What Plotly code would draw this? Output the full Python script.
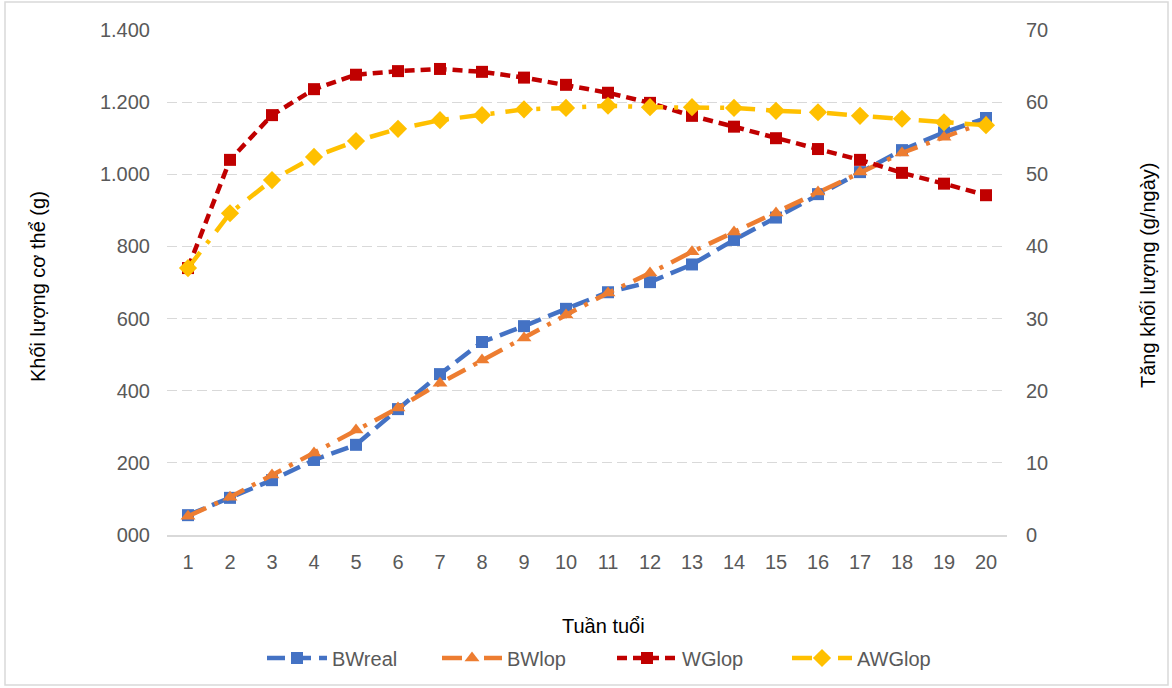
import plotly.graph_objects as go

weeks = list(range(1, 21))
bw_real = [55, 103, 152, 208, 250, 349, 446, 535, 579, 627, 673, 701, 750, 818, 880, 945, 1006, 1067, 1116, 1156]
bw_lop = [52, 105, 166, 227, 291, 352, 421, 485, 546, 610, 671, 726, 785, 840, 893, 951, 1006, 1059, 1103, 1145]
wg_lop = [37.0, 52.0, 58.2, 61.8, 63.8, 64.3, 64.6, 64.2, 63.4, 62.4, 61.3, 59.9, 58.1, 56.6, 55.0, 53.5, 52.0, 50.2, 48.7, 47.1]
awg_lop = [37.0, 44.6, 49.2, 52.4, 54.6, 56.3, 57.5, 58.2, 59.0, 59.2, 59.5, 59.3, 59.3, 59.2, 58.8, 58.6, 58.1, 57.7, 57.2, 56.8]

left_ticks = [0, 200, 400, 600, 800, 1000, 1200, 1400]
left_ticktext = ["000", "200", "400", "600", "800", "1.000", "1.200", "1.400"]
right_ticks = [0, 10, 20, 30, 40, 50, 60, 70]

FONT = "Liberation Sans, Arial, sans-serif"
TXT = "#595959"

fig = go.Figure()
fig.add_trace(go.Scatter(x=weeks, y=bw_real, name="BWreal", mode="lines+markers",
                         line=dict(color="#4472C4", width=4.5, dash="18px,8px"),
                         marker=dict(symbol="square", size=12, color="#4472C4")))
fig.add_trace(go.Scatter(x=weeks, y=bw_lop, name="BWlop", mode="lines+markers",
                         line=dict(color="#ED7D31", width=4.5, dash="20px,9px,4px,9px"),
                         marker=dict(symbol="triangle-up", size=13, color="#ED7D31")))
fig.add_trace(go.Scatter(x=weeks, y=wg_lop, name="WGlop", mode="lines+markers", yaxis="y2",
                         line=dict(color="#C00000", width=4.5, dash="10px,6px"),
                         marker=dict(symbol="square", size=12, color="#C00000")))
fig.add_trace(go.Scatter(x=weeks, y=awg_lop, name="AWGlop", mode="lines+markers", yaxis="y2",
                         line=dict(color="#FFC000", width=4.5, dash="20px,11px,4px,11px"),
                         marker=dict(symbol="diamond", size=14, color="#FFC000")))

def px_x(px):
    return (px - 167) / 840.0

def px_y(py):
    return (535 - py) / 505.0

fig.update_layout(
    width=1172, height=688,
    margin=dict(l=167, r=165, t=30, b=153, autoexpand=False),
    paper_bgcolor="white", plot_bgcolor="white",
    font=dict(family=FONT, size=20, color=TXT),
    showlegend=True,
    legend=dict(orientation="h", x=px_x(612), xanchor="center", y=px_y(658), yanchor="middle",
                entrywidth=100, entrywidthmode="pixels", itemwidth=60,
                font=dict(size=20, color=TXT), traceorder="normal"),
    xaxis=dict(range=[0.5, 20.5], tickvals=weeks, ticktext=[str(w) for w in weeks],
               showgrid=False, zeroline=False, showline=True, linecolor="#d9d9d9", linewidth=1.5,
               ticks="", ticklabelstandoff=8, tickfont=dict(size=20, color=TXT)),
    yaxis=dict(range=[0, 1400], tickvals=left_ticks, ticktext=left_ticktext,
               showgrid=True, gridcolor="#d9d9d9", gridwidth=1.3, griddash="10px,5px",
               zeroline=False, ticks="", ticklabelstandoff=16, tickfont=dict(size=20, color=TXT)),
    yaxis2=dict(range=[0, 70], tickvals=right_ticks, overlaying="y", side="right",
                showgrid=False, zeroline=False, ticks="", ticklabelstandoff=18,
                tickfont=dict(size=20, color=TXT)),
    annotations=[
        dict(text="Khối lượng cơ thể (g)", xref="paper", yref="paper", x=px_x(38), y=px_y(287),
             textangle=-90, showarrow=False, font=dict(size=20, color="#000000"),
             xanchor="center", yanchor="middle"),
        dict(text="Tăng khối lượng (g/ngày)", xref="paper", yref="paper", x=px_x(1148), y=px_y(275),
             textangle=-90, showarrow=False, font=dict(size=20, color="#000000"),
             xanchor="center", yanchor="middle"),
        dict(text="Tuần tuổi", xref="paper", yref="paper", x=px_x(603), y=px_y(626),
             showarrow=False, font=dict(size=20, color="#000000"),
             xanchor="center", yanchor="middle"),
    ],
    shapes=[dict(type="rect", xref="paper", yref="paper",
                 x0=px_x(5), x1=px_x(1168), y0=px_y(685), y1=px_y(2),
                 line=dict(color="#d9d9d9", width=1.5), fillcolor="rgba(0,0,0,0)", layer="below")],
)

fig.write_html("out.html", config={"displayModeBar": False},
               post_script="document.body.style.margin='0';document.body.style.overflow='hidden';")
